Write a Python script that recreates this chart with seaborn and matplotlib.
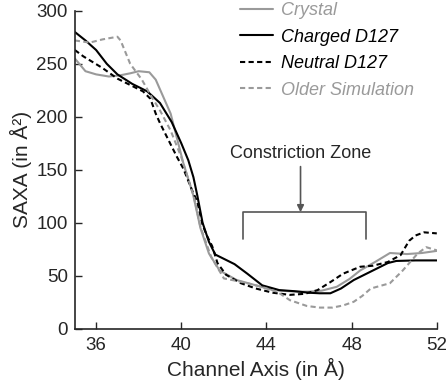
import matplotlib
matplotlib.use('Agg')
import matplotlib.pyplot as plt
import seaborn as sns
import pandas as pd

# Datos
crystal_x = [35, 35.5, 36, 36.6, 37.1, 37.6, 38.0, 38.5, 38.8, 39.5, 40.1, 40.55, 40.9, 41.3, 41.8,
             42.6, 43.5, 44.3, 45.0, 45.6, 46.0, 46.6, 47.3, 47.9, 48.4, 49.1, 49.8, 50.6, 51.3, 52]
crystal_y = [255, 243, 240, 238, 239, 241, 243, 242, 235, 203, 156, 127, 95, 71, 55,
             46, 41, 36.5, 35.5, 35, 35, 36, 39.6, 47, 55, 63, 71.5, 70.5, 71.5, 73.5]

charged_x = [35, 35.5, 36.0, 36.5, 37.0, 37.7, 38.4, 39.0, 39.55, 40.0, 40.33, 40.57, 40.75, 41.0, 41.3,
             41.6, 42.0, 42.5, 43.1, 43.8, 44.6, 45.3, 46.0, 46.5, 47.0, 47.5, 48.1, 48.6, 49.2, 49.7,
             50.1, 51.0, 52]
charged_y = [280, 272, 263, 250, 240, 231, 224, 213, 195, 175, 159, 143, 126, 100, 82,
             70, 66, 61, 52, 41, 36.5, 35.5, 34, 33.5, 33.5, 38, 46, 51, 57, 62,
             64, 64.5, 64.5]

neutral_x = [35, 35.4, 36.3, 37.0, 37.6, 38.2, 38.55, 38.8, 39.0, 39.5, 39.8, 40.1, 40.3, 40.5, 40.75,
             41.0, 41.2, 41.45, 41.7, 42.1, 42.8, 43.5, 44.3, 45.1, 45.8, 46.4, 47.0, 47.6, 48.4, 49.0,
             49.7, 50.3, 50.7, 51.0, 51.4, 52]
neutral_y = [263, 257, 246, 236, 230, 224, 217, 203, 194, 174, 162, 151, 141, 131, 120,
             98, 88, 78, 62, 51, 43, 38, 34, 32, 33, 36.5, 44, 52, 58.5, 59.5,
             63, 69.5, 83, 88, 91, 90]

older_x = [35, 35.7, 36.3, 37.0, 37.15, 37.6, 38.15, 38.6, 39.0, 39.5, 40.0, 40.3, 40.6, 40.9, 41.4,
           42.0, 42.9, 43.7, 44.5, 45.1, 45.9, 46.5, 47.1, 47.6, 48.1, 48.5, 48.9, 49.8, 50.4, 51.1,
           51.5, 52]
older_y = [272, 270, 273, 275.5, 272, 250, 235, 219, 206, 187, 162, 143, 124, 96, 68,
           47.5, 44, 40, 35, 27, 21.5, 20, 20, 22, 25.5, 31, 38, 43, 55, 71,
           77, 74]

etiquetas = ['Crystal', 'Charged D127', 'Neutral D127', 'Older Simulation']
gris = '#9a9a9a'

sns.set_style('ticks')
plt.rcParams['font.family'] = ['Liberation Sans', 'DejaVu Sans']

fig = plt.figure(figsize=(4.48, 3.85), dpi=100)
ax = fig.add_axes([0.167, 0.146, 0.808, 0.826])

series = [
    (crystal_x, crystal_y, gris, '-', etiquetas[0]),
    (charged_x, charged_y, 'black', '-', etiquetas[1]),
    (neutral_x, neutral_y, 'black', '--', etiquetas[2]),
    (older_x, older_y, gris, '--', etiquetas[3]),
]
for xs, ys, col, ls, lab in series:
    df = pd.DataFrame({'x': xs, 'y': ys})
    sns.lineplot(data=df, x='x', y='y', ax=ax, color=col, linestyle=ls, linewidth=1.5,
                 label=lab, sort=False)
for ln in ax.lines:
    if ln.get_linestyle() == '--':
        ln.set_dashes((2.5, 1.6))

ax.set_xlim(35, 52)
ax.set_ylim(0, 300)
ax.set_xticks([36, 40, 44, 48, 52])
ax.set_yticks([0, 50, 100, 150, 200, 250, 300])
ax.tick_params(axis='x', direction='in', length=5, width=1, labelsize=13.5, pad=6)
ax.tick_params(axis='y', direction='in', length=5, width=1, labelsize=13.5, pad=5)
sns.despine(ax=ax)
for s in ['left', 'bottom']:
    ax.spines[s].set_linewidth(1.2)
ax.set_xlabel('Channel Axis (in Å)', fontsize=15, labelpad=3)
ax.set_ylabel('SAXA (in Å²)', fontsize=15, labelpad=3)

# Anotación de la zona de constricción
cz = '#555555'
ax.plot([42.9, 42.9, 48.68, 48.68], [85, 110, 110, 85], color=cz, linewidth=1.2)
ax.annotate('', xy=(45.6, 110), xytext=(45.6, 153),
            arrowprops=dict(arrowstyle='-|>', color=cz, lw=1.2, mutation_scale=10,
                            shrinkA=0, shrinkB=0))
ax.text(45.6, 165.5, 'Constriction Zone', ha='center', va='center', fontsize=13)

leg = ax.legend(loc='upper left', bbox_to_anchor=(240 / 448, 1 - 2 / 385), bbox_transform=fig.transFigure,
                frameon=False, fontsize=13, handlelength=1.8, handletextpad=0.45,
                labelspacing=0.53, borderpad=0.0, borderaxespad=0)
for txt, col in zip(leg.get_texts(), [gris, 'black', 'black', gris]):
    txt.set_color(col)
    txt.set_style('italic')

fig.savefig('out.png', dpi=100)
plt.close()
